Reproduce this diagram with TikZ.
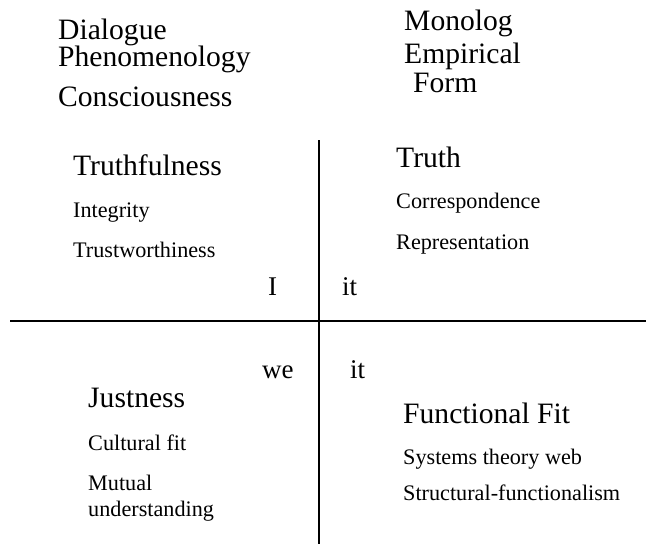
\documentclass[tikz,border=0pt]{standalone}
\usepackage{fontspec}
\setmainfont{Liberation Serif}
\tikzset{
  big/.style={anchor=base west, inner sep=0pt, font=\fontsize{29.6}{32}\selectfont},
  mid/.style={anchor=base west, inner sep=0pt, font=\fontsize{27}{30}\selectfont},
  small/.style={anchor=base west, inner sep=0pt, font=\fontsize{22.2}{26}\selectfont},
  axis/.style={draw=black, line width=1.1pt}
}
\begin{document}
\begin{tikzpicture}[x=1pt,y=-1pt]
\useasboundingbox (0,0) rectangle (646,544);
% top headings
\node[big] (dia) at (58,39) {Dialogue};
\node[big] (phe) at (58,66) {Phenomenology};
\node[big] (con) at (58,106) {Consciousness};
\node[big] (mon) at (404,30) {Monolog};
\node[big] (emp) at (404,63) {Empirical};
\node[big] (frm) at (413,92) {Form};
% axes
\coordinate (vt) at (319,140);
\coordinate (vb) at (319,544);
\coordinate (hl) at (10,321);
\coordinate (hr) at (646,321);
\draw[axis] (vt) -- (vb);
\draw[axis] (hl) -- (hr);
% upper left
\node[big] (tfu) at (73,175) {Truthfulness};
\node[small] (int) at (73,217) {Integrity};
\node[small] (trw) at (73,257) {Trustworthiness};
\node[mid] (qi) at (268,295) {I};
% upper right
\node[big] (tru) at (396,167) {Truth};
\node[small] (cor) at (396,208) {Correspondence};
\node[small] (rep) at (396,249) {Representation};
\node[mid] (qit1) at (342,295) {it};
% lower left
\node[mid] (qwe) at (262,378) {we};
\node[big] (jus) at (88,407) {Justness};
\node[small] (cul) at (88,450) {Cultural fit};
\node[small] (mut) at (88,490) {Mutual};
\node[small] (und) at (88,516) {understanding};
% lower right
\node[mid] (qit2) at (350,378) {it};
\node[big] (fun) at (403,423) {Functional Fit};
\node[small] (sys) at (403,464) {Systems theory web};
\node[small] (str) at (403,500) {Structural-functionalism};
\end{tikzpicture}
\end{document}
